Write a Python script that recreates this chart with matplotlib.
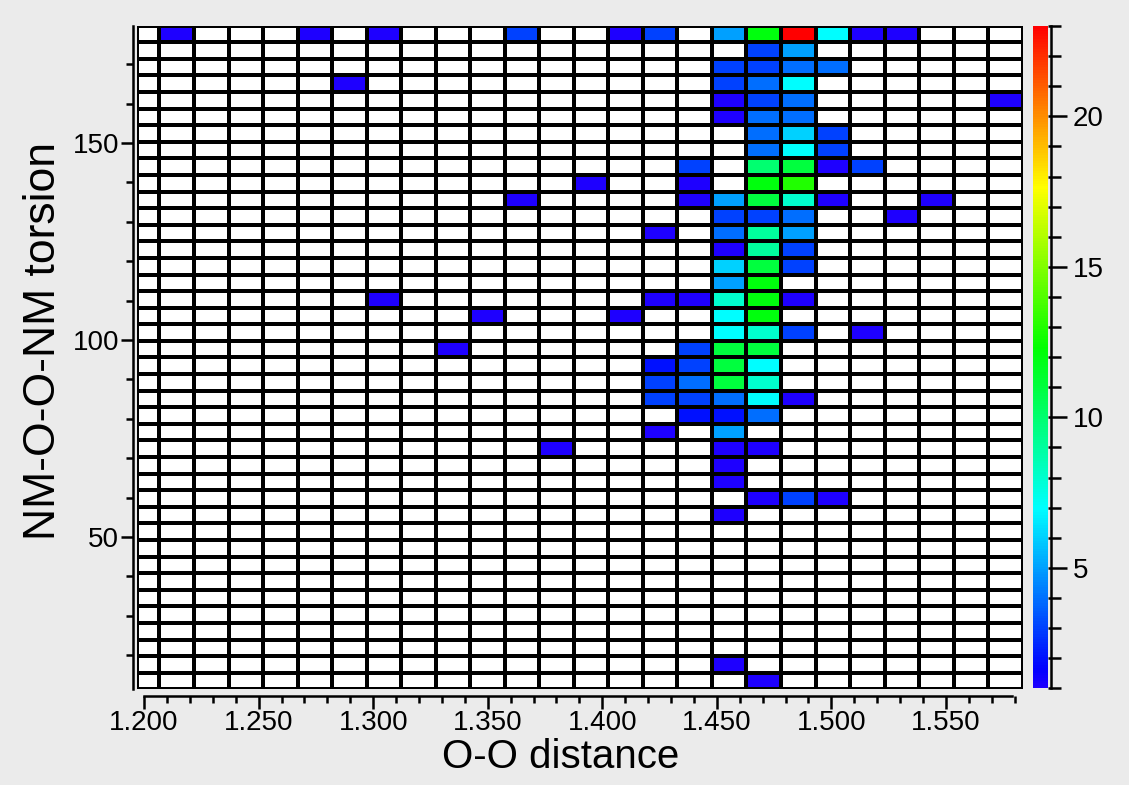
import numpy as np
import matplotlib
matplotlib.use("Agg")
import matplotlib.pyplot as plt
from matplotlib.colors import ListedColormap, hsv_to_rgb, Normalize
from matplotlib.ticker import MultipleLocator, FormatStrFormatter

# bin edges
x_edges = [1.1969] + list(np.linspace(1.2067, 1.5835, 26))
y_edges = np.linspace(11.3, 179.8, 41)

# non-empty cells: row counted from the top, column from the left, count
cell_row = [0, 0, 0, 0, 0, 0, 0, 0, 0, 0, 0, 0,
            1, 1,
            2, 2, 2, 2,
            3, 3, 3, 3,
            4, 4, 4, 4,
            5, 5, 5,
            6, 6, 6,
            7, 7, 7,
            8, 8, 8, 8, 8,
            9, 9, 9, 9,
            10, 10, 10, 10, 10, 10, 10,
            11, 11, 11, 11,
            12, 12, 12, 12,
            13, 13, 13,
            14, 14, 14,
            15, 15,
            16, 16, 16, 16, 16, 16,
            17, 17, 17, 17,
            18, 18, 18, 18,
            19, 19, 19, 19,
            20, 20, 20, 20,
            21, 21, 21, 21,
            22, 22, 22, 22, 22,
            23, 23, 23,
            24, 24,
            25, 25, 25,
            26, 27,
            28, 28, 28,
            29, 38, 39]
cell_col = [1, 5, 7, 11, 14, 15, 17, 18, 19, 20, 21, 22,
            18, 19,
            17, 18, 19, 20,
            6, 17, 18, 19,
            17, 18, 19, 25,
            17, 18, 19,
            18, 19, 20,
            18, 19, 20,
            16, 18, 19, 20, 21,
            13, 16, 18, 19,
            11, 16, 17, 18, 19, 20, 23,
            17, 18, 19, 22,
            15, 17, 18, 19,
            17, 18, 19,
            17, 18, 19,
            17, 18,
            7, 15, 16, 17, 18, 19,
            10, 14, 17, 18,
            17, 18, 19, 21,
            9, 16, 17, 18,
            15, 16, 17, 18,
            15, 16, 17, 18,
            15, 16, 17, 18, 19,
            16, 17, 18,
            15, 17,
            12, 17, 18,
            17, 17,
            18, 19, 20,
            17, 17, 18]
cell_count = [1, 1, 1, 3, 1, 3, 5, 12, 23, 7, 1, 1,
              3, 5,
              3, 3, 4, 4,
              1, 3, 4, 7,
              1, 3, 4, 1,
              1, 4, 4,
              4, 6, 3,
              4, 7, 3,
              3, 10, 11, 1, 3,
              1, 1, 12, 13,
              1, 1, 5, 11, 8, 1, 1,
              3, 3, 4, 1,
              1, 4, 9, 5,
              1, 9, 3,
              6, 11, 3,
              5, 12,
              1, 1, 1, 8, 12, 1,
              1, 1, 7, 12,
              7, 8, 3, 1,
              1, 3, 11, 11,
              2, 3, 11, 7,
              3, 4, 11, 8,
              3, 3, 4, 7, 1,
              2, 2, 4,
              1, 5,
              1, 1, 1,
              1, 1,
              1, 3, 1,
              1, 1, 1]

x_ticks = [1.200, 1.250, 1.300, 1.350, 1.400, 1.450, 1.500, 1.550]
y_ticks = [50, 100, 150]
cb_ticks = [5, 10, 15, 20]
vmin, vmax = 1, 23

n_rows = len(y_edges) - 1
n_cols = len(x_edges) - 1
counts = np.zeros((n_rows, n_cols))
for r, c, v in zip(cell_row, cell_col, cell_count):
    counts[n_rows - 1 - r, c] = v

# rainbow: hue runs from blue-violet (low) to red (high)
hue = np.linspace(247 / 360, 0, 256)
rgb = hsv_to_rgb(np.column_stack([hue, np.ones(256), np.ones(256)]))
cmap = ListedColormap(rgb)
cmap.set_under("white")
norm = Normalize(vmin=vmin, vmax=vmax)

plt.rcParams["font.family"] = ["Liberation Sans", "DejaVu Sans"]

W, H = 1129, 785
fig = plt.figure(figsize=(W / 100, H / 100), dpi=100, facecolor="#ebebeb")
ax = fig.add_axes([137 / W, 1 - 689.3 / H, (1022.7 - 137) / W, (689.3 - 25.7) / H])

mesh = ax.pcolormesh(x_edges, y_edges, counts, cmap=cmap, norm=norm,
                     edgecolors="black", linewidth=1.5)
ax.set_xlim(x_edges[0], x_edges[-1])
ax.set_ylim(y_edges[0], y_edges[-1])

for s in ["top", "right"]:
    ax.spines[s].set_visible(False)
ax.spines["left"].set_position(("outward", 3))
ax.spines["bottom"].set_position(("outward", 5))
ax.spines["bottom"].set_bounds(1.200, 1.579)
for s in ["left", "bottom"]:
    ax.spines[s].set_linewidth(1.8)

ax.set_xticks(x_ticks)
ax.xaxis.set_major_formatter(FormatStrFormatter("%.3f"))
ax.xaxis.set_minor_locator(MultipleLocator(0.01))
ax.set_yticks(y_ticks)
ax.yaxis.set_minor_locator(MultipleLocator(10))
ax.tick_params(which="major", direction="out", length=9, width=1.8,
               labelsize=20, pad=1)
ax.tick_params(which="minor", direction="out", length=5, width=1.8)

ax.set_xlabel("O-O distance", fontsize=29)
ax.set_ylabel("NM-O-O-NM torsion", fontsize=32)
ax.xaxis.set_label_coords(0.478, -0.074)
ax.yaxis.set_label_coords(-0.082, 0.525)

# colour scale
cax = fig.add_axes([1033 / W, 1 - 688.3 / H, 15 / W, (688.3 - 26) / H])
cb = fig.colorbar(mesh, cax=cax)
cb.outline.set_visible(False)
cax.plot([1.2, 1.2], [0, 1], transform=cax.transAxes, color="black",
         lw=1.8, clip_on=False)
cb.set_ticks(cb_ticks)
cax.yaxis.set_minor_locator(MultipleLocator(1))
cax.tick_params(which="major", direction="out", length=14, width=1.8,
                labelsize=20, pad=4)
cax.tick_params(which="minor", direction="out", length=9, width=1.8)

fig.savefig("out.png", dpi=100, facecolor=fig.get_facecolor())
